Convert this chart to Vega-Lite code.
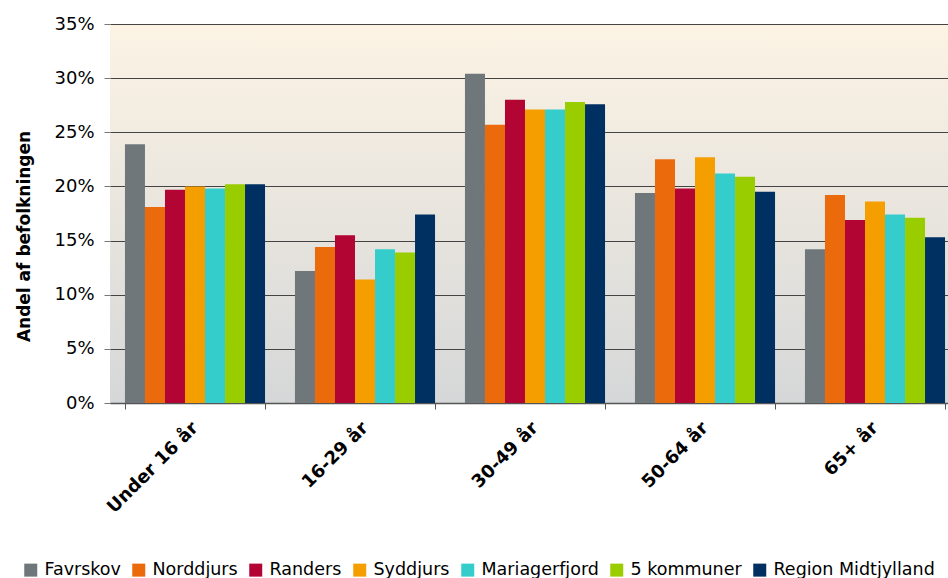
{
  "$schema": "https://vega.github.io/schema/vega-lite/v6.json",
  "width": 838,
  "height": 379,
  "autosize": {"type": "none"},
  "padding": {"left": 110, "top": 24, "right": 0, "bottom": 175},
  "background": "white",
  "config": {
    "font": "DejaVu Sans",
    "view": {
      "stroke": null,
      "fill": {"gradient": "linear", "x1": 0, "y1": 0, "x2": 0, "y2": 1,
        "stops": [{"offset": 0, "color": "#fcf3e4"}, {"offset": 1, "color": "#d5d7d8"}]}
    }
  },
  "data": {
    "values": [
      {"age": "Under 16 år", "area": "Favrskov", "v": 0.239},
      {"age": "Under 16 år", "area": "Norddjurs", "v": 0.181},
      {"age": "Under 16 år", "area": "Randers", "v": 0.197},
      {"age": "Under 16 år", "area": "Syddjurs", "v": 0.200},
      {"age": "Under 16 år", "area": "Mariagerfjord", "v": 0.198},
      {"age": "Under 16 år", "area": "5 kommuner", "v": 0.202},
      {"age": "Under 16 år", "area": "Region Midtjylland", "v": 0.202},
      {"age": "16-29 år", "area": "Favrskov", "v": 0.122},
      {"age": "16-29 år", "area": "Norddjurs", "v": 0.144},
      {"age": "16-29 år", "area": "Randers", "v": 0.155},
      {"age": "16-29 år", "area": "Syddjurs", "v": 0.114},
      {"age": "16-29 år", "area": "Mariagerfjord", "v": 0.142},
      {"age": "16-29 år", "area": "5 kommuner", "v": 0.139},
      {"age": "16-29 år", "area": "Region Midtjylland", "v": 0.174},
      {"age": "30-49 år", "area": "Favrskov", "v": 0.304},
      {"age": "30-49 år", "area": "Norddjurs", "v": 0.257},
      {"age": "30-49 år", "area": "Randers", "v": 0.280},
      {"age": "30-49 år", "area": "Syddjurs", "v": 0.271},
      {"age": "30-49 år", "area": "Mariagerfjord", "v": 0.271},
      {"age": "30-49 år", "area": "5 kommuner", "v": 0.278},
      {"age": "30-49 år", "area": "Region Midtjylland", "v": 0.276},
      {"age": "50-64 år", "area": "Favrskov", "v": 0.194},
      {"age": "50-64 år", "area": "Norddjurs", "v": 0.225},
      {"age": "50-64 år", "area": "Randers", "v": 0.198},
      {"age": "50-64 år", "area": "Syddjurs", "v": 0.227},
      {"age": "50-64 år", "area": "Mariagerfjord", "v": 0.212},
      {"age": "50-64 år", "area": "5 kommuner", "v": 0.209},
      {"age": "50-64 år", "area": "Region Midtjylland", "v": 0.195},
      {"age": "65+ år", "area": "Favrskov", "v": 0.142},
      {"age": "65+ år", "area": "Norddjurs", "v": 0.192},
      {"age": "65+ år", "area": "Randers", "v": 0.169},
      {"age": "65+ år", "area": "Syddjurs", "v": 0.186},
      {"age": "65+ år", "area": "Mariagerfjord", "v": 0.174},
      {"age": "65+ år", "area": "5 kommuner", "v": 0.171},
      {"age": "65+ år", "area": "Region Midtjylland", "v": 0.153}
    ]
  },
  "mark": {"type": "bar"},
  "encoding": {
    "x": {
      "field": "age", "type": "nominal",
      "sort": ["Under 16 år", "16-29 år", "30-49 år", "50-64 år", "65+ år"],
      "scale": {"range": [0, 850], "paddingInner": 0.176, "paddingOuter": 0.088},
      "axis": {
        "title": null, "labelAngle": -45, "labelAlign": "right", "labelBaseline": "middle",
        "labelFontSize": 18, "labelFontWeight": "bold", "labelColor": "#000",
        "labelPadding": 16,
        "tickBand": "extent", "tickColor": "#555", "tickSize": 6,
        "domainColor": "#555", "domainWidth": 1.5, "grid": false
      }
    },
    "xOffset": {
      "field": "area", "type": "nominal",
      "sort": ["Favrskov", "Norddjurs", "Randers", "Syddjurs", "Mariagerfjord", "5 kommuner", "Region Midtjylland"],
      "scale": {"paddingInner": 0, "paddingOuter": 0}
    },
    "y": {
      "field": "v", "type": "quantitative",
      "scale": {"domain": [0, 0.35]},
      "axis": {
        "title": "Andel af befolkningen", "titleFontSize": 17, "titleFontWeight": "bold",
        "titleColor": "#000", "titlePadding": 20, "titleY": 212,
        "values": [0, 0.05, 0.1, 0.15, 0.2, 0.25, 0.3, 0.35],
        "format": ".0%", "labelFontSize": 18, "labelColor": "#000", "labelPadding": 10,
        "tickColor": "#777", "tickSize": 6, "domain": false,
        "grid": true, "gridColor": "#444", "gridWidth": 1
      }
    },
    "color": {
      "field": "area", "type": "nominal",
      "sort": ["Favrskov", "Norddjurs", "Randers", "Syddjurs", "Mariagerfjord", "5 kommuner", "Region Midtjylland"],
      "scale": {
        "domain": ["Favrskov", "Norddjurs", "Randers", "Syddjurs", "Mariagerfjord", "5 kommuner", "Region Midtjylland"],
        "range": ["#6f777b", "#eb6a0c", "#b30534", "#f49e00", "#35cccc", "#9acd00", "#002f62"]
      },
      "legend": {
        "title": null, "orient": "none", "direction": "horizontal",
        "legendX": -88, "legendY": 537,
        "symbolType": "square", "symbolSize": 169, "symbolStrokeWidth": 0,
        "labelFontSize": 17.5, "labelColor": "#000", "labelOffset": 5, "columnPadding": 9,
        "labelLimit": 0
      }
    }
  }
}
